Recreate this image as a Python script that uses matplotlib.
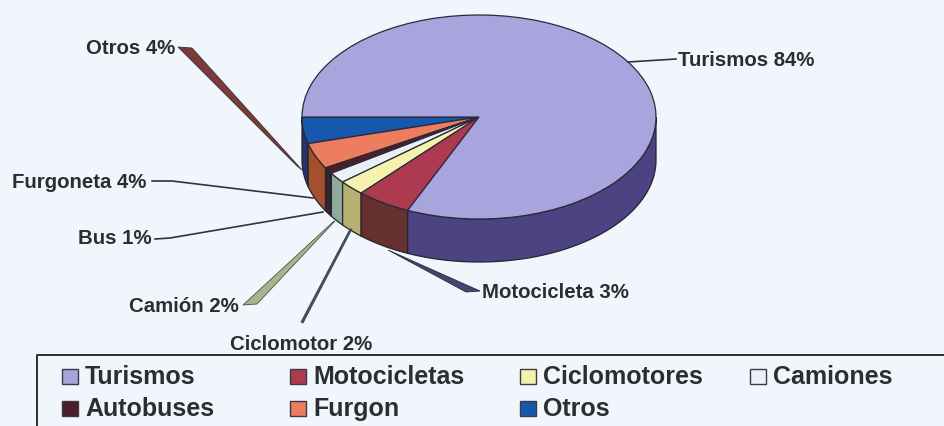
import matplotlib
matplotlib.use("Agg")
import numpy as np
import matplotlib.pyplot as plt
from matplotlib.patches import Polygon, Rectangle

W, H = 945, 426
BG = "#f1f6fc"
TXT = "#2b2d33"

# slices, counter-clockwise from the left edge of the pie
names = ["Otros", "Furgon", "Autobuses", "Camiones", "Ciclomotores", "Motocicletas", "Turismos"]
shares = [4.2, 4.1, 1.0, 1.7, 2.4, 5.0, 81.6]
top_colors = ["#1558ad", "#ee7d60", "#4a1f2a", "#e9f1f6", "#f5f2ae", "#ad3a50", "#a8a5de"]
side_colors = ["#26346a", "#a4502f", "#33262c", "#8fa99c", "#b6b172", "#66302f", "#4d4282"]

# callouts as printed on the chart
callout_labels = ["Turismos 84%", "Otros 4%", "Furgoneta 4%", "Bus 1%", "Camión 2%", "Ciclomotor 2%", "Motocicleta 3%"]
callout_left = [678, 86, 12, 78, 129, 230, 482]
callout_y = [60, 49, 182, 239, 306, 344, 293]

legend_names = ["Turismos", "Motocicletas", "Ciclomotores", "Camiones", "Autobuses", "Furgon", "Otros"]
legend_x = [62, 290, 520, 750, 62, 290, 520]
legend_y = [376, 376, 376, 376, 408, 408, 408]

fig = plt.figure(figsize=(W / 100, H / 100), dpi=100, facecolor=BG)
plt.rcParams["font.family"] = ["Liberation Sans", "DejaVu Sans"]

# pie sits in its own axes, stretched so the circle turns into the ellipse
cx, cy, rx, ry = 479, 117, 177, 102
depth = 43 / ry
ax = fig.add_axes([(cx - rx) / W, 1 - (cy + ry) / H, 2 * rx / W, 2 * ry / H])
wedges, _ = ax.pie(shares, colors=top_colors, startangle=180, counterclock=True, radius=1,
                   wedgeprops={"edgecolor": "#2a2a3a", "linewidth": 0.9, "zorder": 5})
ax.set_aspect("auto")
ax.set_xlim(-1, 1)
ax.set_ylim(-1, 1)
for w in wedges:
    w.set_clip_on(False)

# rim of the pie, only the part facing the viewer
for w, c in zip(wedges, side_colors):
    t1, t2 = max(w.theta1, 180), min(w.theta2, 360)
    if t2 <= t1:
        continue
    t = np.radians(np.linspace(t1, t2, 80))
    xs, ys = np.cos(t), np.sin(t)
    pts = np.r_[np.c_[xs, ys], np.c_[xs, ys - depth][::-1]]
    ax.add_patch(Polygon(pts, closed=True, facecolor=c, edgecolor="#24242e", linewidth=0.9,
                         zorder=3, clip_on=False))

# overlay in pixel coordinates for callouts and the legend box
ov = fig.add_axes([0, 0, 1, 1], facecolor="none")
ov.set_xlim(0, W)
ov.set_ylim(H, 0)
ov.axis("off")

for s, x, y in zip(callout_labels, callout_left, callout_y):
    ov.text(x, y, s, fontsize=14.7, fontweight="bold", color=TXT, va="center", ha="left")

# plain leader lines
ov.plot([628, 676], [62, 59], color="#33343c", lw=1.2)
ov.plot([152, 172, 313], [181, 181, 198], color="#33343c", lw=1.2)
ov.plot([155, 170, 323], [239, 238, 212], color="#33343c", lw=1.2)

# leaders drawn as thin tapered shapes in the original
ov.add_patch(Polygon([(178, 47), (192, 48), (302, 170), (297, 166)], facecolor="#7c3b38", edgecolor="#3a3236", lw=0.6))
ov.add_patch(Polygon([(243, 305), (257, 304), (335, 221), (333, 222)], facecolor="#a6b58e", edgecolor="#4b5246", lw=0.6))
ov.add_patch(Polygon([(301, 322), (303, 323), (352, 229), (350, 229)], facecolor="#4a5160", edgecolor="#3a3f4a", lw=0.6))
ov.add_patch(Polygon([(388, 250), (480, 291), (466, 292)], facecolor="#4a4170", edgecolor="#2c2c3a", lw=0.6))

# legend box, open at the right and bottom where the picture is cut off
ov.plot([945, 37, 37], [355, 355, 426], color="#2e2e32", lw=1.4)
for name, x, y in zip(legend_names, legend_x, legend_y):
    c = top_colors[names.index(name)]
    ov.add_patch(Rectangle((x, y - 7.5), 16, 15, facecolor=c, edgecolor="#3a3a44", lw=1))
    ov.text(x + 23, y + 1, name, fontsize=18, fontweight="bold", color=TXT, va="center", ha="left")

fig.savefig("out.png", dpi=100, facecolor=BG)
